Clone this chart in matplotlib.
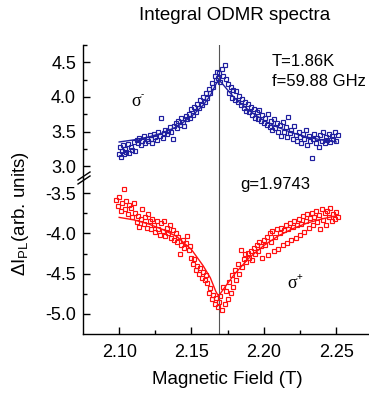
import matplotlib
matplotlib.use("Agg")
import matplotlib.pyplot as plt
from matplotlib.lines import Line2D

plt.rcParams['font.family'] = ['Liberation Sans', 'DejaVu Sans']
plt.rcParams['mathtext.fontset'] = 'custom'
plt.rcParams['mathtext.rm'] = 'Liberation Sans'
plt.rcParams['mathtext.it'] = 'Liberation Sans'

# ---------------- data ----------------
# sigma- (blue) measured points
blue_x = [2.100, 2.1005, 2.101, 2.102, 2.1025, 2.103, 2.104, 2.105, 2.106, 2.107,
          2.108, 2.109, 2.110, 2.111, 2.112, 2.113, 2.114, 2.115, 2.116, 2.117,
          2.118, 2.119, 2.120, 2.121, 2.122, 2.123, 2.124, 2.125, 2.126, 2.127,
          2.128, 2.129, 2.130, 2.131, 2.132, 2.133, 2.134, 2.135, 2.136, 2.137,
          2.138, 2.139, 2.140, 2.141, 2.142, 2.143, 2.144, 2.145, 2.146, 2.147,
          2.148, 2.149, 2.150, 2.151, 2.152, 2.153, 2.154, 2.155, 2.156, 2.157,
          2.158, 2.159, 2.160, 2.161, 2.162, 2.163, 2.164, 2.165, 2.166, 2.167,
          2.1675, 2.168,
          2.169, 2.170, 2.171, 2.172, 2.173, 2.174, 2.175, 2.176, 2.177, 2.178,
          2.179, 2.180, 2.181, 2.182, 2.183, 2.184, 2.185, 2.186, 2.187, 2.188,
          2.189, 2.190, 2.191, 2.192, 2.193, 2.194, 2.195, 2.196, 2.197, 2.198,
          2.199, 2.200, 2.201, 2.202, 2.203, 2.204, 2.205, 2.206, 2.207, 2.208,
          2.209, 2.210, 2.211, 2.212, 2.213, 2.214, 2.215, 2.216, 2.217, 2.218,
          2.219, 2.220, 2.221, 2.222, 2.223, 2.224, 2.225, 2.226, 2.227, 2.228,
          2.229, 2.230, 2.231, 2.232, 2.233, 2.234, 2.235, 2.236, 2.237, 2.238,
          2.239, 2.240, 2.241, 2.242, 2.243, 2.244, 2.245, 2.246, 2.247, 2.248,
          2.249, 2.250, 2.251]
blue_y = [3.18, 3.28, 3.14, 3.22, 3.30, 3.17, 3.25, 3.21, 3.32, 3.19,
          3.28, 3.24, 3.35, 3.22, 3.38, 3.33, 3.41, 3.30, 3.37, 3.43,
          3.34, 3.40, 3.36, 3.45, 3.39, 3.34, 3.47, 3.42, 3.38, 3.50,
          3.44, 3.69, 3.41, 3.48, 3.53, 3.46, 3.51, 3.56, 3.49, 3.39,
          3.58, 3.62, 3.55, 3.66, 3.60, 3.70, 3.64, 3.58, 3.72, 3.68,
          3.76, 3.70, 3.82, 3.74, 3.86, 3.79, 3.90, 3.84, 3.95, 3.88,
          4.00, 3.93, 4.06, 3.98, 4.12, 4.05, 4.20, 4.15, 4.30, 4.24,
          4.36, 4.28,
          4.35, 4.22, 4.40, 4.30, 4.46, 4.26, 4.18, 4.05, 4.15, 3.98,
          4.10, 3.95, 4.08, 3.92, 4.02, 3.88, 3.97, 3.84, 3.93, 3.80,
          3.90, 3.78, 3.86, 3.74, 3.83, 3.70, 3.78, 3.68, 3.81, 3.65,
          3.74, 3.62, 3.70, 3.59, 3.76, 3.57, 3.66, 3.52, 3.68, 3.55,
          3.62, 3.49, 3.59, 3.44, 3.64, 3.50, 3.56, 3.42, 3.71, 3.48,
          3.53, 3.40, 3.58, 3.45, 3.36, 3.50, 3.42, 3.33, 3.47, 3.39,
          3.52, 3.30, 3.44, 3.36, 3.12, 3.40, 3.46, 3.33, 3.41, 3.28,
          3.45, 3.37, 3.50, 3.34, 3.42, 3.38, 3.47, 3.35, 3.44, 3.40,
          3.50, 3.37, 3.45]

# sigma+ (red) measured points
red_x = [2.098, 2.099, 2.100, 2.101, 2.102, 2.103, 2.104, 2.105, 2.106, 2.107,
         2.108, 2.109, 2.110, 2.111, 2.112, 2.113, 2.114, 2.115, 2.116, 2.117,
         2.118, 2.119, 2.120, 2.121, 2.122, 2.123, 2.124, 2.125, 2.126, 2.127,
         2.128, 2.129, 2.130, 2.131, 2.132, 2.133, 2.134, 2.135, 2.136, 2.137,
         2.138, 2.139, 2.140, 2.141, 2.142, 2.143, 2.144, 2.145, 2.146, 2.147,
         2.148, 2.149, 2.150, 2.151, 2.152, 2.153, 2.154, 2.155, 2.156, 2.157,
         2.158, 2.159, 2.160, 2.161, 2.162, 2.163, 2.164, 2.165, 2.166, 2.167,
         2.168, 2.169,
         2.170, 2.171, 2.172, 2.173, 2.174, 2.175, 2.176, 2.177, 2.178, 2.179,
         2.180, 2.181, 2.182, 2.183, 2.184, 2.185, 2.186, 2.187, 2.188, 2.189,
         2.190, 2.191, 2.192, 2.193, 2.194, 2.195, 2.196, 2.197, 2.198, 2.199,
         2.200, 2.201, 2.202, 2.203, 2.204, 2.205, 2.206, 2.207, 2.208, 2.209,
         2.210, 2.211, 2.212, 2.213, 2.214, 2.215, 2.216, 2.217, 2.218, 2.219,
         2.220, 2.221, 2.222, 2.223, 2.224, 2.225, 2.226, 2.227, 2.228, 2.229,
         2.230, 2.231, 2.232, 2.233, 2.234, 2.235, 2.236, 2.237, 2.238, 2.239,
         2.240, 2.241, 2.242, 2.243, 2.244, 2.245, 2.246, 2.247, 2.248, 2.249,
         2.250, 2.251]
red_y = [-3.58, -3.66, -3.55, -3.72, -3.62, -3.45, -3.70, -3.60, -3.76, -3.64,
         -3.68, -3.80, -3.62, -3.74, -3.86, -3.78, -3.92, -3.82, -3.70, -3.88,
         -3.80, -3.93, -3.76, -3.85, -3.95, -3.82, -3.90, -3.98, -3.84, -3.94,
         -4.02, -3.87, -3.97, -3.85, -4.03, -3.93, -3.99, -3.90, -4.05, -3.96,
         -4.08, -4.00, -4.11, -4.04, -4.26, -4.14, -4.08, -4.18, -4.12, -4.03,
         -4.20, -4.15, -4.30, -4.38, -4.32, -4.45, -4.40, -4.50, -4.43, -4.55,
         -4.48, -4.58, -4.52, -4.62, -4.74, -4.68, -4.82, -4.76, -4.88, -4.80,
         -4.92, -4.85,
         -4.78, -4.95, -4.66, -4.88, -4.72, -4.82, -4.60, -4.74, -4.52, -4.66,
         -4.45, -4.58, -4.38, -4.50, -4.20, -4.42, -4.32, -4.26, -4.36, -4.24,
         -4.30, -4.22, -4.33, -4.18, -4.26, -4.14, -4.22, -4.10, -4.16, -4.31,
         -4.08, -4.14, -4.04, -4.27, -4.00, -4.10, -3.97, -4.22, -4.04, -3.95,
         -4.19, -3.99, -3.93, -4.14, -3.96, -3.90, -4.12, -3.94, -3.87, -4.08,
         -3.92, -3.85, -4.05, -3.89, -3.82, -4.02, -3.88, -3.78, -3.98, -3.84,
         -3.76, -3.93, -3.81, -3.74, -3.90, -3.79, -3.72, -3.86, -3.77, -3.95,
         -3.70, -3.83, -3.75, -3.90, -3.72, -3.80, -3.68, -3.85, -3.76, -3.82,
         -3.73, -3.79]

# fitted curves
fit_x = [2.100, 2.110, 2.120, 2.130, 2.140, 2.150, 2.158, 2.163, 2.1668, 2.1687,
         2.171, 2.175, 2.180, 2.190, 2.200, 2.210, 2.220, 2.230, 2.240, 2.250]
blue_fit = [3.35, 3.38, 3.42, 3.48, 3.57, 3.72, 3.88, 4.02, 4.18, 4.25,
            4.20, 4.10, 3.98, 3.80, 3.66, 3.56, 3.48, 3.42, 3.38, 3.35]
red_fit = [-3.80, -3.83, -3.88, -3.95, -4.04, -4.20, -4.40, -4.55, -4.72, -4.78,
           -4.72, -4.62, -4.50, -4.30, -4.15, -4.03, -3.94, -3.87, -3.82, -3.78]

resonance_field = 2.1687
x_ticks = [2.10, 2.15, 2.20, 2.25]
upper_ticks = [3.0, 3.5, 4.0, 4.5]
lower_ticks = [-5.0, -4.5, -4.0, -3.5]

BLUE = '#1f1f9f'
RED = '#ff1010'

# ---------------- figure ----------------
W, H = 369, 394
fig = plt.figure(figsize=(W / 100, H / 100), dpi=100)

left = 83 / W
width = 289.3 / W
ax_top = fig.add_axes([left, 1 - 178 / H, width, 133 / H])
ax_bot = fig.add_axes([left, 1 - 334 / H, width, 156 / H])

for ax in (ax_top, ax_bot):
    ax.set_xlim(2.075, 2.275)
    ax.set_facecolor('none')
    ax.spines['top'].set_visible(False)
    ax.spines['right'].set_visible(False)
    ax.spines['left'].set_linewidth(1.0)
    ax.tick_params(which='both', direction='in', labelsize=13, pad=5, width=1.0)
    ax.tick_params(which='major', length=5)
    ax.tick_params(which='minor', length=3)
    ax.axvline(resonance_field, color='#555555', lw=0.8, zorder=1)

ax_top.spines['bottom'].set_visible(False)
ax_top.tick_params(axis='x', which='both', bottom=False, labelbottom=False)
ax_top.set_ylim(2.83, 4.75)
ax_top.set_yticks(upper_ticks)
ax_top.set_yticks([3.25, 3.75, 4.25, 4.75], minor=True)
ax_top.set_yticklabels([f'{v:.1f}' for v in upper_ticks])

ax_bot.spines['bottom'].set_linewidth(1.0)
ax_bot.set_ylim(-5.25, -3.31)
ax_bot.set_yticks(lower_ticks)
ax_bot.set_yticks([-4.75, -4.25, -3.75], minor=True)
ax_bot.set_yticklabels([f'{v:.1f}' for v in lower_ticks])
ax_bot.set_xticks(x_ticks)
ax_bot.set_xticks([2.125, 2.175, 2.225], minor=True)
ax_bot.set_xticklabels([f'{v:.2f}' for v in x_ticks])
ax_bot.tick_params(axis='x', pad=7)

ax_top.plot(blue_x, blue_y, ls='none', marker='s', ms=3.0, mfc='none',
            mec=BLUE, mew=0.85, zorder=3)
ax_top.plot(fit_x, blue_fit, color=BLUE, lw=1.0, zorder=2)
ax_bot.plot(red_x, red_y, ls='none', marker='s', ms=3.0, mfc='none',
            mec=RED, mew=0.85, zorder=3)
ax_bot.plot(fit_x, red_fit, color=RED, lw=1.0, zorder=2)

# axis break marks
for dy in (-2, 2):
    fig.add_artist(Line2D([78 / W, 90 / W],
                          [1 - (182 + dy) / H, 1 - (174 + dy) / H],
                          color='black', lw=1.0, transform=fig.transFigure))

# texts
fig.text(235 / W, 1 - 16 / H, 'Integral ODMR spectra', ha='center', va='center', fontsize=13.5)
fig.text(227 / W, 1 - 380 / H, 'Magnetic Field (T)', ha='center', va='center', fontsize=13.5)
fig.text(21 / W, 1 - 214 / H, r'$\Delta$I$_{\mathrm{PL}}$(arb. units)', rotation=90,
         ha='center', va='center', fontsize=13.5)
fig.text(272 / W, 1 - 62 / H, 'T=1.86K', ha='left', va='center', fontsize=12)
fig.text(272 / W, 1 - 82 / H, 'f=59.88 GHz', ha='left', va='center', fontsize=12)
fig.text(240 / W, 1 - 184 / H, 'g=1.9743', ha='left', va='center', fontsize=12)
# sigma labels (upright serif sigma with small raised sign)
fig.text(131 / W, 1 - 101 / H, 'σ', ha='left', va='center', fontsize=13,
         family=['Liberation Serif', 'DejaVu Serif'])
fig.text(141 / W, 1 - 94 / H, '-', ha='left', va='center', fontsize=7)
fig.text(287 / W, 1 - 284 / H, 'σ', ha='left', va='center', fontsize=13,
         family=['Liberation Serif', 'DejaVu Serif'])
fig.text(297 / W, 1 - 277 / H, '+', ha='left', va='center', fontsize=7)

fig.savefig('out.png', dpi=100)
